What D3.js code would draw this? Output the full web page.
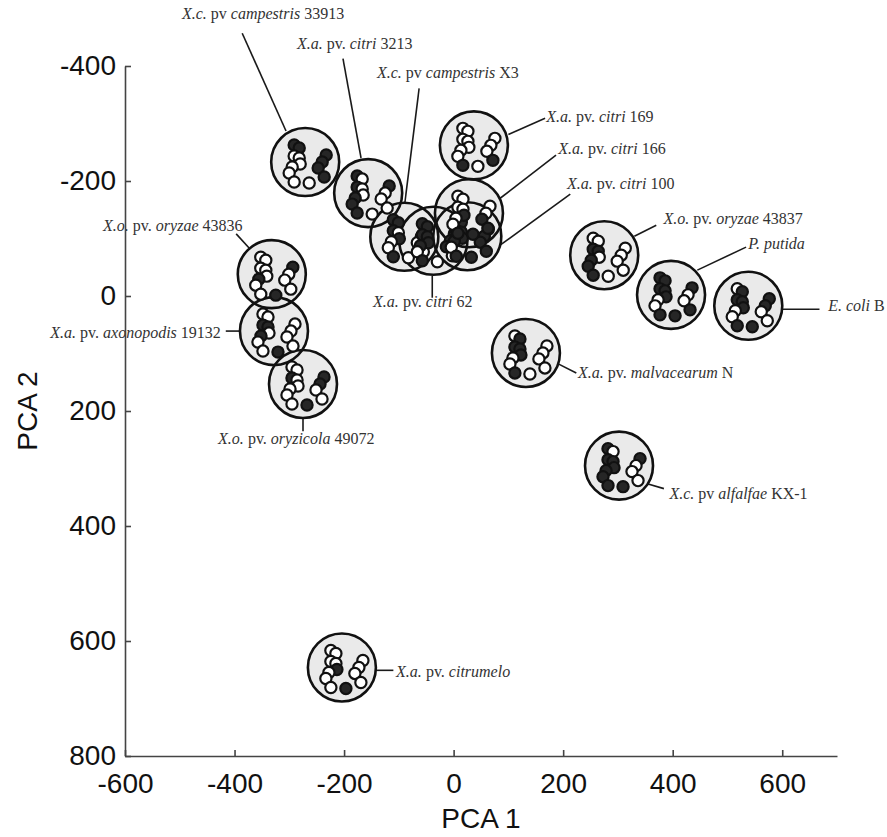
<!DOCTYPE html>
<html><head><meta charset="utf-8">
<script src="https://cdn.jsdelivr.net/npm/d3@7/dist/d3.min.js"></script>
<style>body{margin:0;background:#fff}</style>
</head><body><svg id="c" width="887" height="837"></svg>
<script>
// ---- data ----
const strains = [
  "*X.c.* pv *campestris* 33913",
  "*X.a.* pv. *citri* 3213",
  "*X.c.* pv *campestris* X3",
  "*X.a.* pv. *citri* 62",
  "*X.a.* pv. *citri* 100",
  "*X.a.* pv. *citri* 166",
  "*X.a.* pv. *citri* 169",
  "*X.o.* pv. *oryzae* 43837",
  "*P. putida*",
  "*E. coli* B",
  "*X.a.* pv. *malvacearum* N",
  "*X.c.* pv *alfalfae* KX-1",
  "*X.o.* pv. *oryzae* 43836",
  "*X.a.* pv. *axonopodis* 19132",
  "*X.o.* pv. *oryzicola* 49072",
  "*X.a.* pv. *citrumelo*"
];
const pca1 = [-271, -156, -90, -37, 25, 28, 37, 275, 397, 538, 132, 302, -332, -328, -275, -204];
const pca2 = [-233, -179, -103, -96, -104, -144, -262, -71, -2, 17, 99, 295, -38, 61, 153, 646];
// filled (1) / open (0) wells of each fingerprint
const patterns = [
  "1100000001111",
  "1010011101000",
  "1110100101000",
  "1111110101110",
  "0111110111111",
  "0000100110011",
  "0000000100001",
  "0011011100000",
  "1111100111001",
  "0111100111100",
  "0111100100000",
  "1011111111000",
  "0000010011000",
  "0011010010000",
  "0010000011100",
  "0000100010000"
];
// label anchor (PCA units) and text-anchor
const labelX = [-496, -286, -140, -147, 207, 191, 169, 383, 538, 684, 227, 394, -640, -425, -430, -105];
const labelY = [-481, -429, -379, 19, -186, -247, -302, -125, -82, 26, 142, 353, -113, 73, 257, 663];
const labelAnchor = ["start","start","start","start","start","start","start","start","start","start","start","start","start","end","start","start"];
// leader lines (PCA units): from circle edge to label
const leaderFromX = [-306, -169, -89, -39, 83, 85, 100, 330, 445, 600, 191, 355, -373, -390, -275, -142];
const leaderFromY = [-287, -240, -162, -35, -87, -170, -281, -104, -45, 23, 118, 327, -83, 61, 214, 651];
const leaderToX = [-386, -202, -63, -39, 213, 187, 167, 370, 534, 668, 224, 384, -397, -416, -275, -110];
const leaderToY = [-457, -413, -361, 3, -177, -245, -309, -123, -85, 23, 134, 335, -108, 61, 235, 651];
// fingerprint well layout (fraction of glyph radius)
const wellX = [-0.324, -0.176, -0.324, -0.176, -0.147, -0.382, -0.471, -0.324, 0.118, 0.618, 0.5, 0.382, 0.559];
const wellY = [-0.5, -0.412, -0.176, -0.118, 0.059, 0.147, 0.324, 0.588, 0.618, -0.206, 0, 0.176, 0.441];
const xTicks = [-600, -400, -200, 0, 200, 400, 600];
const yTicks = [-400, -200, 0, 200, 400, 600, 800];
const xTitle = "PCA 1", yTitle = "PCA 2";

// ---- drawing ----
const svg = d3.select("#c");
const L = 125, T = 66, R = 837, B = 756;
const x = d3.scaleLinear().domain([-600, 700]).range([L, R]);
const y = d3.scaleLinear().domain([-400, 800]).range([T, B]);
const Rg = 34;
const glyph = d3.scaleLinear().domain([-1, 1]).range([-Rg, Rg]);

const groups = strains.map((s, i) => ({s, i, cx: x(pca1[i]), cy: y(pca2[i]), p: patterns[i]}));

// leader lines
svg.append("g").selectAll("line").data(groups).join("line")
  .attr("x1", d => x(leaderFromX[d.i])).attr("y1", d => y(leaderFromY[d.i]))
  .attr("x2", d => x(leaderToX[d.i])).attr("y2", d => y(leaderToY[d.i]))
  .attr("stroke", "#1a1a1a").attr("stroke-width", 1.6);

// labels
const lab = svg.append("g").selectAll("text").data(groups).join("text")
  .attr("x", d => x(labelX[d.i])).attr("y", d => y(labelY[d.i]))
  .attr("text-anchor", d => labelAnchor[d.i])
  .attr("font-family", "'Liberation Serif','Times New Roman',serif")
  .attr("font-size", 16).attr("fill", "#333");
lab.each(function(d) {
  const parts = d.s.split("*");
  const t = d3.select(this);
  parts.forEach((p, k) => {
    if (!p) return;
    t.append("tspan").text(p).attr("font-style", k % 2 ? "italic" : "normal");
  });
});

// big circles: fills then outlines
svg.append("g").selectAll("circle").data(groups).join("circle")
  .attr("cx", d => d.cx).attr("cy", d => d.cy).attr("r", Rg)
  .attr("fill", "#eaeaea");
svg.append("g").selectAll("circle").data(groups).join("circle")
  .attr("cx", d => d.cx).attr("cy", d => d.cy).attr("r", Rg)
  .attr("fill", "none").attr("stroke", "#111").attr("stroke-width", 2.6);

// wells
const wells = [];
groups.forEach(g => {
  wellX.forEach((wx, k) => wells.push({cx: g.cx + glyph(wx), cy: g.cy + glyph(wellY[k]), on: g.p[k] === "1"}));
});
svg.append("g").selectAll("circle").data(wells).join("circle")
  .attr("cx", d => d.cx).attr("cy", d => d.cy).attr("r", glyph(0.165))
  .attr("fill", d => d.on ? "#262626" : "#fff")
  .attr("stroke", "#111").attr("stroke-width", 2.2);

// axes
const font = "'Liberation Sans', Arial, sans-serif";
const fmt = d => String(d);
const ax = svg.append("g").attr("transform", `translate(0,${B})`)
  .call(d3.axisBottom(x).tickValues(xTicks).tickSizeInner(-6).tickSizeOuter(0).tickPadding(17).tickFormat(fmt));
const ay = svg.append("g").attr("transform", `translate(${L},0)`)
  .call(d3.axisLeft(y).tickValues(yTicks).tickSizeInner(-6).tickSizeOuter(0).tickPadding(9).tickFormat(fmt));
[ax, ay].forEach(a => {
  a.select(".domain").attr("stroke", "#444").attr("stroke-width", 1.6);
  a.selectAll(".tick line").attr("stroke", "#444").attr("stroke-width", 1.6);
  a.selectAll(".tick text").attr("font-family", font).attr("font-size", 28).attr("fill", "#111");
});
ax.selectAll(".tick text").attr("dy", "0.71em");

svg.append("text").attr("x", (L + R) / 2).attr("y", 828).attr("text-anchor", "middle")
  .attr("font-family", font).attr("font-size", 28).attr("fill", "#111").text(xTitle);
svg.append("text").attr("transform", `translate(37,${(T + B) / 2}) rotate(-90)`).attr("text-anchor", "middle")
  .attr("font-family", font).attr("font-size", 28).attr("fill", "#111").text(yTitle);
</script>
</body></html>
